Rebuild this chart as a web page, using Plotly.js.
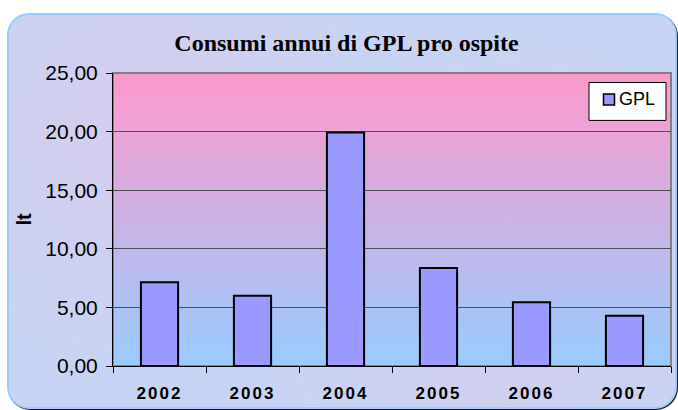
<!DOCTYPE html>
<html>
<head>
<meta charset="utf-8">
<script src="https://cdn.plot.ly/plotly-3.0.1.min.js"></script>
<style>
  html, body { margin:0; padding:0; background:#ffffff; }
  #frame { position:absolute; left:7px; top:13px; width:666px; height:392px;
           border:2px solid #99ccff; border-radius:22px;
           background:
             radial-gradient(circle at 20% 30%, rgba(240,190,230,0.35), rgba(240,190,230,0) 40%),
             radial-gradient(circle at 75% 70%, rgba(240,190,230,0.30), rgba(240,190,230,0) 45%),
             #c8d4f3;
           box-shadow: 1px 1px 0 #222; }
  #chart { position:absolute; left:0; top:0; width:678px; height:410px; }
  .xtick text { letter-spacing: 2px; }
</style>
</head>
<body>
<div id="frame"></div>
<div id="chart"></div>
<script>
const years = ['2002', '2003', '2004', '2005', '2006', '2007'];
const gplValues = [7.15, 5.99, 19.93, 8.37, 5.45, 4.28];
const seriesName = 'GPL';
const chartTitle = 'Consumi annui di GPL pro ospite';
const yTitle = 'lt';

const barColor = '#9999ff';

// plot-area geometry (pixels) used to place the legend box
const PL = 113, PR = 671, PT = 72.5, PB = 366;
const px = v => (v - PL) / (PR - PL);
const py = v => (PB - v) / (PB - PT);

const gradSvg = "<svg xmlns='http://www.w3.org/2000/svg' width='10' height='100' preserveAspectRatio='none'>" +
  "<defs><linearGradient id='g' x1='0' y1='0' x2='0' y2='1'>" +
  "<stop offset='0' stop-color='#ff99cc'/><stop offset='1' stop-color='#99ccff'/>" +
  "</linearGradient></defs><rect width='10' height='100' fill='url(#g)'/></svg>";
const gradUri = 'data:image/svg+xml;base64,' + btoa(gradSvg);

const trace = {
  type: 'bar',
  x: years,
  y: gplValues,
  name: seriesName,
  marker: { color: barColor, line: { color: '#000000', width: 2 } },
  showlegend: false
};

const layout = {
  width: 678, height: 410,
  margin: { l: PL, r: 678 - PR, t: PT, b: 410 - PB },
  paper_bgcolor: 'rgba(0,0,0,0)',
  plot_bgcolor: 'rgba(0,0,0,0)',
  separators: ',.',
  bargap: 0.6,
  font: { family: 'Arial, "Liberation Sans", sans-serif', color: '#000000' },
  title: {
    text: '<b>' + chartTitle + '</b>',
    font: { family: '"Times New Roman", "Liberation Serif", serif', size: 24, color: '#000000' },
    xref: 'container', x: 346.5 / 678, xanchor: 'center',
    yref: 'container', y: 1 - 42.5 / 410, yanchor: 'middle'
  },
  xaxis: {
    type: 'category',
    showgrid: false,
    showline: true, linecolor: '#000000', linewidth: 1,
    ticks: 'outside', tickson: 'boundaries', ticklen: 6, tickcolor: '#000000', tickwidth: 1,
    tickfont: { size: 17, weight: 'bold' },
    ticklabelstandoff: 12,
    fixedrange: true
  },
  yaxis: {
    range: [0, 25], dtick: 5, tickformat: '.2f',
    showline: true, linecolor: '#000000', linewidth: 1,
    ticks: 'outside', ticklen: 6, tickcolor: '#000000', tickwidth: 1,
    tickfont: { size: 21 },
    ticklabelstandoff: 4,
    showgrid: true, gridcolor: '#505050', gridwidth: 1,
    zeroline: false,
    title: { text: '<b>' + yTitle + '</b>', font: { size: 20 }, standoff: 8 },
    fixedrange: true
  },
  showlegend: false,
  images: [{
    source: gradUri, xref: 'paper', yref: 'paper',
    x: 0, y: 1, sizex: 1, sizey: 1, xanchor: 'left', yanchor: 'top',
    sizing: 'stretch', layer: 'below'
  }],
  shapes: [
    { type: 'rect', xref: 'paper', yref: 'paper', x0: 0, x1: 1, y0: 0, y1: 1,
      line: { color: '#808080', width: 2 }, fillcolor: 'rgba(0,0,0,0)', layer: 'below' },
    // legend box
    { type: 'rect', xref: 'paper', yref: 'paper', x0: px(589), x1: px(666), y0: py(120), y1: py(82),
      line: { color: '#000000', width: 1 }, fillcolor: '#ffffff', layer: 'above' },
    // legend symbol
    { type: 'rect', xref: 'paper', yref: 'paper', x0: px(603.5), x1: px(614.5), y0: py(104.5), y1: py(93.5),
      line: { color: '#000000', width: 1.5 }, fillcolor: barColor, layer: 'above' }
  ],
  annotations: [
    { text: seriesName, xref: 'paper', yref: 'paper', x: px(617), y: py(98.5),
      xanchor: 'left', yanchor: 'middle', showarrow: false,
      font: { size: 18, color: '#000000' } }
  ]
};

Plotly.newPlot('chart', [trace], layout, { displayModeBar: false, staticPlot: true });
</script>
</body>
</html>
